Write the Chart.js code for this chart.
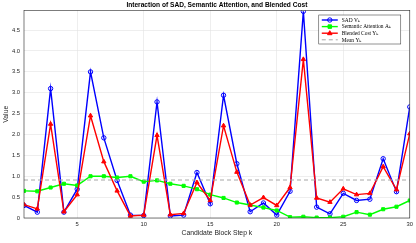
<!DOCTYPE html>
<html>
<head>
<meta charset="utf-8">
<script src="https://cdn.jsdelivr.net/npm/chart.js@4"></script>
<style>
  html, body { margin: 0; padding: 0; background: #fff; }
  #wrap { width: 416px; height: 243px; }
</style>
</head>
<body>
<div id="wrap"><canvas id="costChart" width="416" height="243"></canvas></div>
<script>
// step index k
const steps = [1,2,3,4,5,6,7,8,9,10,11,12,13,14,15,16,17,18,19,20,21,22,23,24,25,26,27,28,29,30];
// SAD V_k
const sadValues = [0.30,0.14,3.10,0.14,0.69,3.50,1.92,0.90,0.07,0.06,2.78,0.05,0.07,1.09,0.34,2.94,1.30,0.15,0.36,0.07,0.64,4.95,0.26,0.10,0.59,0.42,0.45,1.42,0.63,2.66];
// semantic attention A_k
const attnValues = [0.65,0.64,0.73,0.82,0.78,1.00,1.00,0.97,1.00,0.87,0.90,0.82,0.77,0.69,0.56,0.48,0.37,0.31,0.25,0.18,0.02,0.03,0.01,0.01,0.03,0.14,0.08,0.21,0.27,0.42];
// blended cost Y_k
const costValues = [0.32,0.22,2.25,0.15,0.56,2.45,1.35,0.65,0.05,0.07,1.98,0.08,0.11,0.85,0.42,2.21,1.10,0.31,0.49,0.30,0.73,3.80,0.48,0.38,0.70,0.56,0.59,1.23,0.68,2.02];
const meanCost = 0.91;
const xTicks = [5,10,15,20,25,30];
const yTicks = [0,0.5,1,1.5,2,2.5,3,3.5,4,4.5];

const titleText = 'Interaction of SAD, Semantic Attention, and Blended Cost';
const seriesLabels = ['SAD V\u2096', 'Semantic Attention A\u2096', 'Blended Cost Y\u2096', 'Mean Y\u2096'];

function toPoints(vals) {
    return steps.map((k, i) => ({ x: k, y: vals[i] }));
}

const axisInk = '#262626';
const gridInk = '#e3e3e3';

// box, title and in-axes legend, MATLAB style
const matlabFrame = {
    id: 'matlabFrame',
    afterDatasetsDraw(chart) {
        const ctx = chart.ctx;
        const a = chart.chartArea;
        ctx.save();
        ctx.strokeStyle = axisInk;
        ctx.lineWidth = 0.6;
        ctx.strokeRect(a.left, a.top, a.right - a.left, a.bottom - a.top);

        // title
        ctx.fillStyle = '#000';
        ctx.font = 'bold 6.6px "Liberation Sans", Arial, sans-serif';
        ctx.textAlign = 'center';
        ctx.textBaseline = 'middle';
        ctx.fillText(titleText, (a.left + a.right) / 2, 5.6);

        // legend
        const bx = a.right - 91, by = a.top + 4.5, bw = 82, bh = 29;
        ctx.fillStyle = '#fff';
        ctx.fillRect(bx, by, bw, bh);
        ctx.strokeStyle = axisInk;
        ctx.lineWidth = 0.5;
        ctx.strokeRect(bx, by, bw, bh);
        ctx.font = '5.4px "Liberation Serif", "DejaVu Serif", serif';
        ctx.textAlign = 'left';
        chart.data.datasets.forEach((ds, i) => {
            const yy = by + 5 + i * 6.6;
            const mx = bx + 11;
            ctx.save();
            ctx.strokeStyle = ds.borderColor;
            ctx.lineWidth = ds.borderWidth;
            ctx.setLineDash(ds.borderDash || []);
            ctx.beginPath();
            ctx.moveTo(bx + 3, yy);
            ctx.lineTo(bx + 19, yy);
            ctx.stroke();
            ctx.restore();
            if (ds.pointRadius > 0) {
                ctx.fillStyle = ds.pointBackgroundColor;
                ctx.strokeStyle = ds.borderColor;
                ctx.lineWidth = ds.pointBorderWidth;
                ctx.beginPath();
                const r = ds.pointRadius;
                if (ds.pointStyle === 'circle') {
                    ctx.arc(mx, yy, r, 0, Math.PI * 2);
                } else if (ds.pointStyle === 'rect') {
                    const h = r * 0.8;
                    ctx.rect(mx - h, yy - h, 2 * h, 2 * h);
                } else {
                    ctx.moveTo(mx, yy - r);
                    ctx.lineTo(mx + r * 0.9, yy + r * 0.6);
                    ctx.lineTo(mx - r * 0.9, yy + r * 0.6);
                    ctx.closePath();
                }
                ctx.fill();
                ctx.stroke();
            }
            ctx.fillStyle = '#000';
            ctx.fillText(ds.label, bx + 23, yy + 0.3);
        });
        ctx.restore();
    }
};

const ctx = document.getElementById('costChart').getContext('2d');
new Chart(ctx, {
    type: 'line',
    data: {
        datasets: [
            {
                label: seriesLabels[0],
                data: toPoints(sadValues),
                borderColor: '#0000ff',
                backgroundColor: '#0000ff',
                pointBackgroundColor: 'rgba(255,255,255,0)',
                borderWidth: 1.4,
                pointStyle: 'circle',
                pointRadius: 2.2,
                pointBorderWidth: 1,
                order: 4
            },
            {
                label: seriesLabels[1],
                data: toPoints(attnValues),
                borderColor: '#00ff00',
                backgroundColor: '#00ff00',
                pointBackgroundColor: '#00ff00',
                borderWidth: 1.4,
                pointStyle: 'rect',
                pointRadius: 2.2,
                pointBorderWidth: 1,
                order: 3
            },
            {
                label: seriesLabels[2],
                data: toPoints(costValues),
                borderColor: '#ff0000',
                backgroundColor: '#ff0000',
                pointBackgroundColor: '#ff0000',
                borderWidth: 1.4,
                pointStyle: 'triangle',
                pointRadius: 2.5,
                pointBorderWidth: 1,
                order: 2
            },
            {
                label: seriesLabels[3],
                data: [{ x: steps[0], y: meanCost }, { x: steps[steps.length - 1], y: meanCost }],
                borderColor: '#a6a6a6',
                backgroundColor: '#a6a6a6',
                borderWidth: 1,
                borderDash: [4, 3],
                pointRadius: 0,
                order: 1
            }
        ]
    },
    options: {
        responsive: false,
        animation: false,
        devicePixelRatio: 1,
        layout: { padding: { top: 10.5, right: 3, left: 0, bottom: 0 } },
        plugins: {
            legend: { display: false },
            title: { display: false },
            tooltip: { enabled: false }
        },
        elements: { line: { tension: 0 } },
        scales: {
            x: {
                type: 'linear',
                min: 1,
                max: 30,
                afterBuildTicks(scale) {
                    scale.ticks = xTicks.map(v => ({ value: v }));
                },
                afterFit(scale) { scale.height = 25; },
                grid: { color: gridInk, lineWidth: 0.6, drawTicks: false },
                border: { display: false },
                ticks: {
                    color: axisInk,
                    font: { family: '"Liberation Sans", Arial, sans-serif', size: 5.8 },
                    padding: 3,
                    maxRotation: 0
                },
                title: {
                    display: true,
                    text: 'Candidate Block Step k',
                    color: axisInk,
                    font: { family: '"Liberation Sans", Arial, sans-serif', size: 6.8 },
                    padding: { top: 0, bottom: 6 }
                }
            },
            y: {
                min: 0,
                max: 4.97,
                afterBuildTicks(scale) {
                    scale.ticks = yTicks.map(v => ({ value: v }));
                },
                afterFit(scale) { scale.width = 24; },
                grid: { color: gridInk, lineWidth: 0.6, drawTicks: false },
                border: { display: false },
                ticks: {
                    color: axisInk,
                    font: { family: '"Liberation Sans", Arial, sans-serif', size: 5.8 },
                    padding: 4
                },
                title: {
                    display: true,
                    text: 'Value',
                    color: axisInk,
                    font: { family: '"Liberation Sans", Arial, sans-serif', size: 6.8 },
                    padding: { top: 2, bottom: 0 }
                }
            }
        }
    },
    plugins: [matlabFrame]
});
</script>
</body>
</html>
